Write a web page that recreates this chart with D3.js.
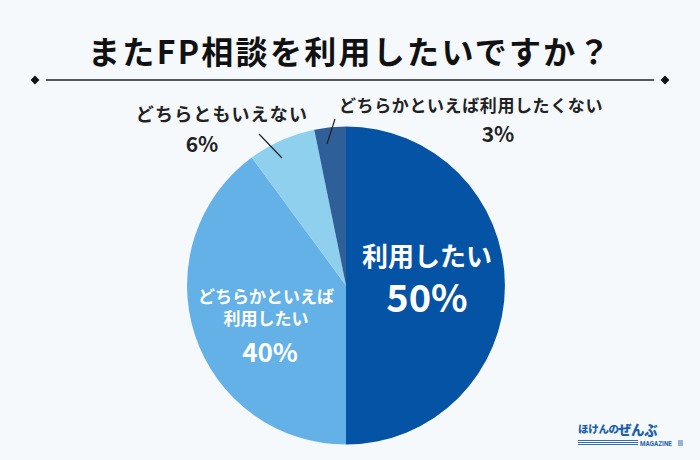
<!DOCTYPE html>
<html><head><meta charset="utf-8">
<script src="https://cdn.jsdelivr.net/npm/d3@7"></script>
<style>
html,body{margin:0;padding:0;background:#f6f9fc;}
svg{display:block;font-family:"Noto Sans CJK JP","Noto Sans",sans-serif;}
</style></head>
<body>
<svg id="chart" width="700" height="460"></svg>
<script>
const title = "またFP相談を利用したいですか？";
const categories = ["利用したい", "どちらかといえば利用したい", "どちらともいえない", "どちらかといえば利用したくない"];
const values = [50.0, 39.9, 6.9, 3.2];
const percentLabels = ["50%", "40%", "6%", "3%"];
const colors = ["#0553a5", "#63b1e6", "#8fd0ee", "#2e5f98"];

const svg = d3.select("#chart");
const W = 700, H = 460;
svg.append("rect").attr("width", W).attr("height", H).attr("fill", "#f6f9fc");

// Title
svg.append("text").attr("x", 350).attr("y", 64).attr("text-anchor", "middle")
  .attr("font-size", 32).attr("font-weight", 700).attr("fill", "#111")
  .attr("letter-spacing", 2.3).text(title);

// Rule with diamonds
svg.append("line").attr("x1", 46).attr("x2", 654).attr("y1", 80).attr("y2", 80)
  .attr("stroke", "#222").attr("stroke-width", 1.3);
[35, 665].forEach(x => {
  svg.append("path").attr("d", d3.symbol().type(d3.symbolDiamond2).size(50)())
    .attr("transform", `translate(${x},80)`).attr("fill", "#111");
});

// Pie
const cx = 346, cy = 285.5, R = 159;
const pie = d3.pie().sort(null).value(d => d)(values);
const arc = d3.arc().innerRadius(0).outerRadius(R);
const g = svg.append("g").attr("transform", `translate(${cx},${cy})`);
g.selectAll("path").data(pie).join("path")
  .attr("d", arc).attr("fill", (d, i) => colors[i]);

// Inside labels
const inner = svg.append("g").attr("fill", "#fff").attr("font-weight", 700).attr("text-anchor", "middle");
inner.append("text").attr("x", 427).attr("y", 266).attr("font-size", 26).text(categories[0]);
inner.append("text").attr("x", 427).attr("y", 312).attr("font-size", 38).text(percentLabels[0]);

const inner2 = svg.append("g").attr("fill", "#fff").attr("font-weight", 700).attr("text-anchor", "middle");
inner2.append("text").attr("x", 266).attr("y", 303).attr("font-size", 17).text("どちらかといえば");
inner2.append("text").attr("x", 266).attr("y", 325).attr("font-size", 17).text("利用したい");
inner2.append("text").attr("x", 270).attr("y", 362).attr("font-size", 26).text(percentLabels[1]);

// Outside labels with leader lines
const out = svg.append("g").attr("fill", "#222").attr("font-weight", 700).attr("text-anchor", "middle");
// 6%
out.append("text").attr("x", 222).attr("y", 121).attr("font-size", 18).attr("letter-spacing", 1.2).text(categories[2]);
out.append("text").attr("x", 202).attr("y", 152).attr("font-size", 21).text(percentLabels[2]);
svg.append("line").attr("x1", 259).attr("y1", 134).attr("x2", 282).attr("y2", 158)
  .attr("stroke", "#222").attr("stroke-width", 1.2);
// 3%
out.append("text").attr("x", 471).attr("y", 112).attr("font-size", 17).attr("letter-spacing", 0.6).text(categories[3]);
out.append("text").attr("x", 498).attr("y", 142).attr("font-size", 21).text(percentLabels[3]);
svg.append("line").attr("x1", 335).attr("y1", 119).attr("x2", 327).attr("y2", 144)
  .attr("stroke", "#222").attr("stroke-width", 1.2);

// Logo
const logo = svg.append("g").attr("font-weight", 900).attr("fill", "#1f5fae");
logo.append("text").attr("x", 578).attr("y", 433).attr("font-size", 10.5).attr("letter-spacing", -0.3).text("ほけんの");
logo.append("text").attr("x", 618).attr("y", 434.5).attr("font-size", 13.5).attr("letter-spacing", -0.5).text("ぜんぶ");
[440.5, 442.5, 444.5].forEach(y => {
  logo.append("line").attr("x1", 578).attr("x2", 638).attr("y1", y).attr("y2", y)
    .attr("stroke", "#1f5fae").attr("stroke-width", 0.9);
});
logo.append("text").attr("x", 640).attr("y", 445.5).attr("font-size", 6.3).attr("font-family", "Roboto,sans-serif").attr("font-weight", 700).text("MAGAZINE");
[441, 443, 445].forEach(y => {
  logo.append("line").attr("x1", 678).attr("x2", 683).attr("y1", y).attr("y2", y)
    .attr("stroke", "#1f5fae").attr("stroke-width", 0.9);
});
</script>
</body></html>
